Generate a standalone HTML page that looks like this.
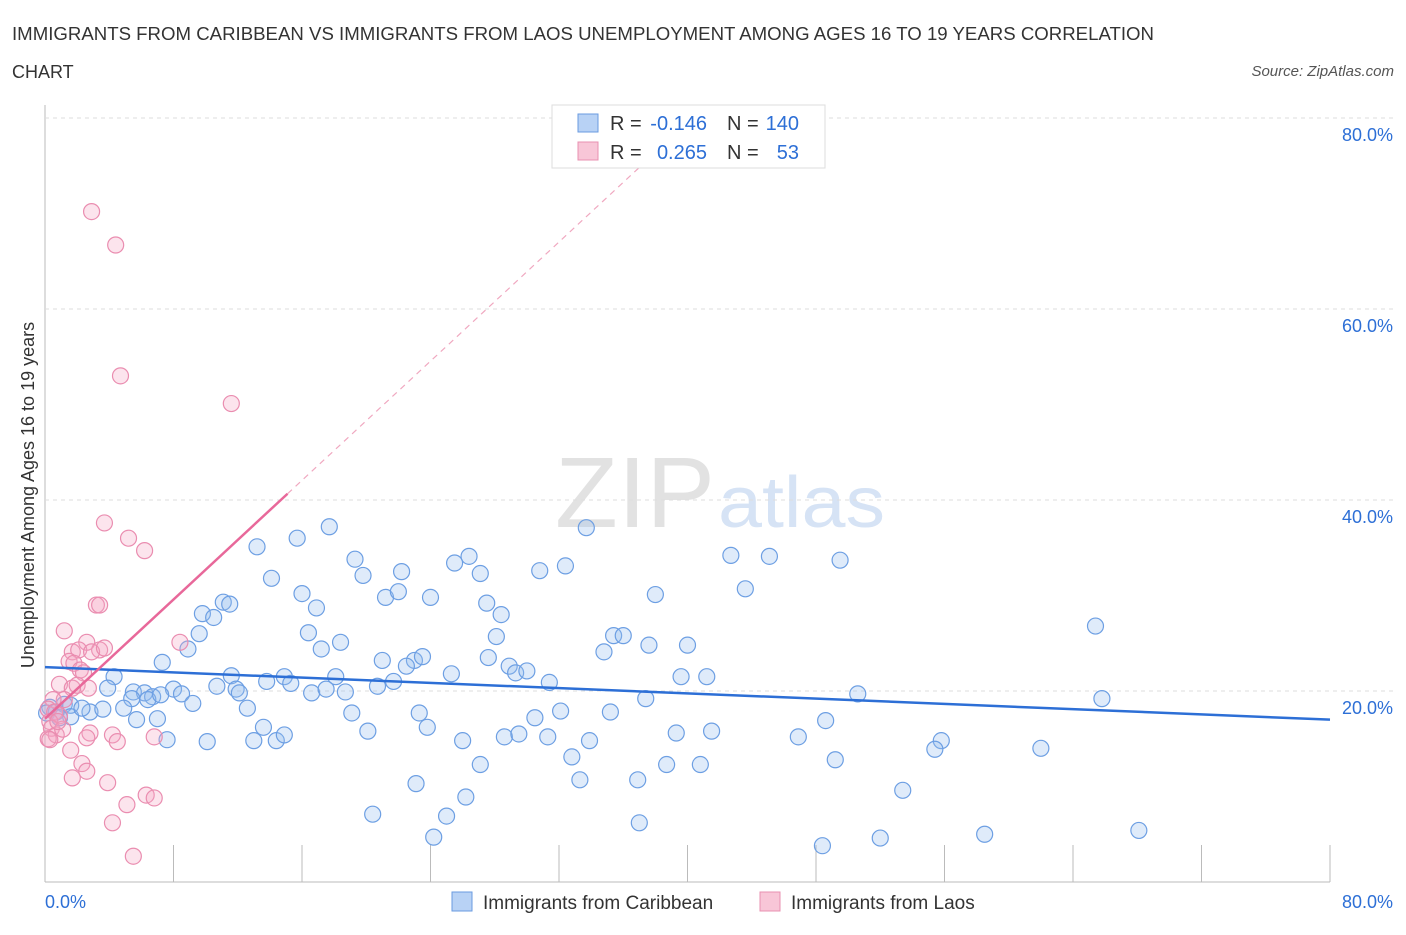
<!DOCTYPE html>
<html><head><meta charset="utf-8"><style>
body{margin:0;background:#fff;font-family:"Liberation Sans",sans-serif;}
svg text{font-family:"Liberation Sans",sans-serif;}
</style></head><body>
<svg id="c" width="1406" height="930" xmlns="http://www.w3.org/2000/svg">
<text x="12" y="40" font-size="18" fill="#333" textLength="1142" lengthAdjust="spacingAndGlyphs">IMMIGRANTS FROM CARIBBEAN VS IMMIGRANTS FROM LAOS UNEMPLOYMENT AMONG AGES 16 TO 19 YEARS CORRELATION</text>
<text x="12" y="78" font-size="18" fill="#333">CHART</text>
<text x="1394" y="76" font-size="15" fill="#555" font-style="italic" text-anchor="end">Source: ZipAtlas.com</text>
<text x="555" y="527" font-size="100" fill="#e2e2e2" font-family="Liberation Serif" textLength="160" lengthAdjust="spacingAndGlyphs">ZIP</text>
<text x="718" y="527" font-size="72" fill="#d6e3f5" textLength="167" lengthAdjust="spacingAndGlyphs">atlas</text>
<text transform="translate(34,495) rotate(-90)" font-size="18" fill="#333" text-anchor="middle">Unemployment Among Ages 16 to 19 years</text>
<g id="grid"></g><g id="marks"></g><g id="lines"></g>
<g>
<rect x="552" y="105" width="273" height="63" fill="#fff" stroke="#ddd"/>
<rect x="578" y="114" width="20" height="18" fill="#b8d2f5" stroke="#6a9be0"/>
<rect x="578" y="142" width="20" height="18" fill="#f8c6d7" stroke="#e890b0"/>
<text x="610" y="130" font-size="20" fill="#333">R =</text>
<text x="707" y="130" font-size="20" fill="#2d6fd6" text-anchor="end">-0.146</text>
<text x="727" y="130" font-size="20" fill="#333">N =</text>
<text x="799" y="130" font-size="20" fill="#2d6fd6" text-anchor="end">140</text>
<text x="610" y="159" font-size="20" fill="#333">R =</text>
<text x="707" y="159" font-size="20" fill="#2d6fd6" text-anchor="end">0.265</text>
<text x="727" y="159" font-size="20" fill="#333">N =</text>
<text x="799" y="159" font-size="20" fill="#2d6fd6" text-anchor="end">53</text>
</g>
<g>
<rect x="452" y="892" width="20" height="19" fill="#b8d2f5" stroke="#6a9be0"/>
<text x="483" y="909" font-size="19" fill="#333">Immigrants from Caribbean</text>
<rect x="760" y="892" width="20" height="19" fill="#f8c6d7" stroke="#e890b0"/>
<text x="791" y="909" font-size="19" fill="#333">Immigrants from Laos</text>
</g>
</svg>
<script>
const blueX=[33.7,17.7,13.2,15.7,19.3,19.8,26.4,25.5,27.1,22.2,30.8,32.4,42.7,45.1,49.5,14.1,21.2,22.0,24.0,16.0,16.9,27.5,28.4,38.0,43.6,11.1,11.5,9.8,10.5,9.6,16.4,18.4,17.2,28.1,35.4,36.0,37.6,40.0,34.8,65.4,7.3,8.9,21.0,23.0,23.5,22.5,25.3,27.6,28.9,29.3,30.0,39.6,41.2,31.4,4.3,11.6,14.9,15.3,13.8,18.1,20.7,21.7,3.9,5.5,6.2,6.7,8.0,8.5,10.7,11.9,12.1,16.6,17.5,18.7,5.4,6.4,7.2,50.6,65.8,1.2,1.6,2.8,3.6,4.9,9.2,12.6,19.1,23.3,32.1,35.2,37.4,5.7,7.0,13.6,20.1,23.8,30.5,48.6,1.6,0.3,0.7,0.1,7.6,10.1,13.0,14.4,14.9,26.0,28.6,29.5,31.3,33.9,39.3,41.5,46.9,55.8,55.4,62.0,32.8,49.2,27.1,38.7,40.8,23.1,33.3,36.9,53.4,26.2,20.4,25.0,37.0,68.1,58.5,24.2,52.0,48.4,0.9,2.3];
const blueY=[37.1,37.2,35.1,36.0,33.8,32.1,34.1,33.4,32.3,32.5,32.6,33.1,34.2,34.1,33.7,31.8,29.8,30.4,29.8,30.2,28.7,29.2,28.0,30.1,30.7,29.3,29.1,28.1,27.7,26.0,26.1,25.1,24.4,25.7,25.8,25.8,24.8,24.8,24.1,26.8,23.0,24.4,23.2,23.2,23.6,22.6,21.8,23.5,22.6,21.9,22.1,21.5,21.5,20.9,21.5,21.6,21.5,20.8,21.0,21.5,20.5,21.0,20.3,19.9,19.8,19.4,20.2,19.7,20.5,20.2,19.8,19.8,20.2,19.9,19.2,19.1,19.6,19.7,19.2,18.6,18.5,17.8,18.1,18.2,18.7,18.2,17.7,17.7,17.9,17.8,19.2,17.0,17.1,16.2,15.8,16.2,17.2,16.9,17.3,18.3,17.8,17.7,14.9,14.7,14.8,14.8,15.4,14.8,15.2,15.5,15.2,14.8,15.6,15.8,15.2,14.8,13.9,14.0,13.1,12.8,12.3,12.3,12.3,10.3,10.7,10.7,9.6,8.9,7.1,6.9,6.2,5.4,5.0,4.7,4.6,3.8,17.2,18.2];
const pinkX=[2.9,4.4,4.7,11.6,3.7,5.2,6.2,3.2,3.4,1.2,8.4,2.6,3.4,1.7,2.1,2.9,3.7,1.5,1.8,2.2,2.4,0.9,1.7,1.2,2.0,2.7,0.5,0.2,0.6,0.9,0.3,0.4,0.7,1.1,0.2,2.8,2.6,4.2,4.5,6.8,1.6,2.3,2.6,1.7,3.9,5.1,6.3,6.8,4.2,5.5,0.8,0.3];
const pinkY=[70.2,66.7,53.0,50.1,37.6,36.0,34.7,29.0,29.0,26.3,25.1,25.1,24.3,24.1,24.3,24.1,24.5,23.1,22.9,22.2,21.9,20.7,20.3,19.1,20.6,20.3,19.1,18.1,17.8,17.4,16.8,16.1,15.4,16.0,15.0,15.6,15.1,15.4,14.7,15.2,13.8,12.4,11.6,10.9,10.4,8.1,9.1,8.8,6.2,2.7,16.8,14.9];
const yTicks=[20,40,60,80];
const blueTrend=[22.5,17.0];
const pinkTrend=[17.1,1.56];
const NS='http://www.w3.org/2000/svg';
const sx=v=>45+v*(1285/80), sy=v=>882-v*9.55;
function mk(t,a,p){const e=document.createElementNS(NS,t);for(const k in a)e.setAttribute(k,a[k]);p.appendChild(e);return e;}
const grid=document.getElementById('grid'),marks=document.getElementById('marks'),lines=document.getElementById('lines');
let ax=mk('line',{x1:45,y1:105,x2:45,y2:882,stroke:'#bbb'},grid);


let bx=mk('line',{x1:45,y1:882,x2:1330,y2:882,stroke:'#bbb'},grid);


for(let i=0;i<=10;i++){const x=sx(i*8);
 const t=mk('line',{x1:x,y1:845,x2:x,y2:882,stroke:'#bbb'},grid);
 
 }
yTicks.forEach(v=>{const y=sy(v);
 const g=mk('line',{x1:45,y1:y,x2:1395,y2:y,stroke:'#ddd','stroke-dasharray':'4,4'},grid);
 
 
 const t=mk('text',{x:1393,y:y+23,'font-size':18,fill:'#2d6fd6','text-anchor':'end'},grid);t.textContent=v.toFixed(1)+'%';
 
 });
const xl0=mk('text',{x:45,y:908,'font-size':18,fill:'#2d6fd6'},grid);xl0.textContent='0.0%';


const xl1=mk('text',{x:1393,y:908,'font-size':18,fill:'#2d6fd6','text-anchor':'end'},grid);xl1.textContent='80.0%';


blueX.forEach((v,i)=>{const c=mk('circle',{cx:sx(v),cy:sy(blueY[i]),r:8,fill:'rgba(150,190,240,0.3)',stroke:'#6d9fe3','stroke-width':1.2},marks);
 
 });
pinkX.forEach((v,i)=>{const c=mk('circle',{cx:sx(v),cy:sy(pinkY[i]),r:8,fill:'rgba(245,165,195,0.3)',stroke:'#ea8db0','stroke-width':1.2},marks);
 
 });
const bl=mk('line',{x1:sx(0),y1:sy(blueTrend[0]),x2:sx(80),y2:sy(blueTrend[1]),stroke:'#2d6fd6','stroke-width':2.5},lines);


const pf=x=>pinkTrend[0]+pinkTrend[1]*x;
const pl=mk('line',{x1:sx(0),y1:sy(pf(0)),x2:sx(15.1),y2:sy(pf(15.1)),stroke:'#e8689a','stroke-width':2.5},lines);


const pd=mk('line',{x1:sx(15.1),y1:sy(pf(15.1)),x2:sx(37),y2:sy(pf(37)),stroke:'#f0a8c0','stroke-width':1.2,'stroke-dasharray':'6,5'},lines);


</script>
</body></html>
